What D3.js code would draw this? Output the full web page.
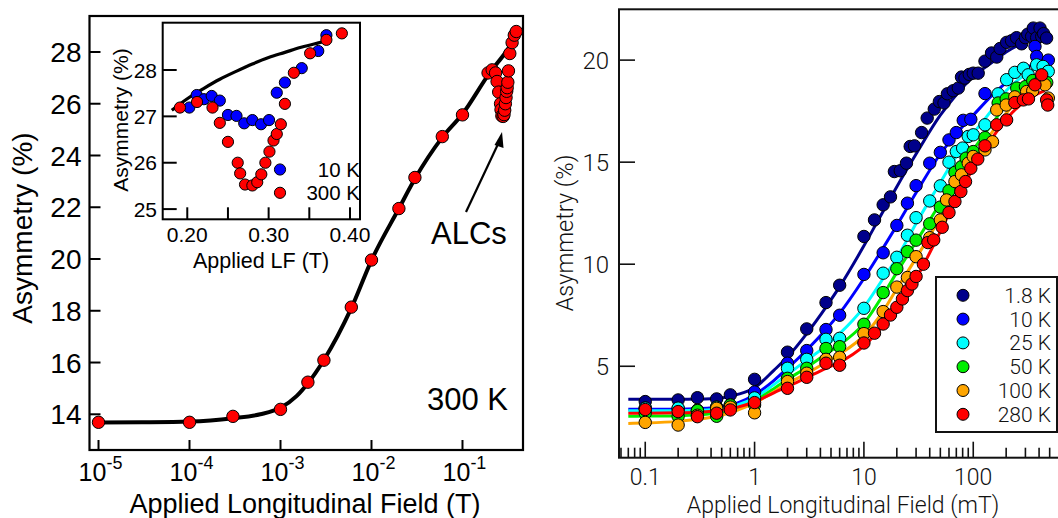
<!DOCTYPE html>
<html><head><meta charset="utf-8">
<script src="https://cdn.jsdelivr.net/npm/d3@7"></script>
<style>body{margin:0;background:#fff}svg{display:block}</style>
</head><body>
<svg id="c" width="1058" height="518"></svg>
<script>
// ---------- Left panel: 300 K main data (field in T) ----------
const mainX = [1e-5, 1e-4, 3e-4, 1e-3, 2e-3, 3e-3, 6e-3, 1e-2, 2e-2, 3e-2, 6e-2, 1e-1];
const mainY = [13.69, 13.69, 13.92, 14.19, 15.24, 16.09, 18.14, 19.96, 21.95, 23.15, 24.73, 25.57];
const mainFitX = [1e-5, 3e-5, 1e-4, 3e-4, 6e-4, 1e-3, 1.5e-3, 2e-3, 3e-3, 6e-3, 1e-2, 2e-2, 3e-2, 6e-2, 0.1, 0.2, 0.3, 0.42];
const mainFitY = [13.68, 13.69, 13.72, 13.85, 14.0, 14.25, 14.7, 15.2, 16.1, 18.1, 19.95, 21.95, 23.1, 24.7, 25.6, 27.2, 28.0, 28.75];
const mainTickVals = [1e-5, 1e-4, 1e-3, 1e-2, 1e-1];
const mainTickExp = ["-5", "-4", "-3", "-2", "-1"];
const mainYTicks = [14, 16, 18, 20, 22, 24, 26, 28];

// ---------- Inset: ALC region ----------
const in300X = [0.191,0.212,0.231,0.240,0.250,0.262,0.265,0.271,0.280,0.286,0.291,0.296,0.301,0.306,0.310,0.315,0.320,0.331,0.351,0.371,0.390];
const in300Y = [27.19,27.31,27.19,26.86,26.45,26.0,25.77,25.53,25.51,25.58,25.75,26.0,26.24,26.48,26.62,26.83,27.27,27.94,28.36,28.65,28.79];
const in10X = [0.2025,0.2116,0.2205,0.230,0.240,0.250,0.2605,0.270,0.280,0.2907,0.3005,0.310,0.320,0.3407,0.361,0.371];
const in10Y = [27.19,27.46,27.37,27.44,27.34,27.03,27.01,26.85,26.92,26.83,26.92,27.51,27.73,28.04,28.41,28.75];
const inFitX = [0.181,0.20,0.22,0.24,0.26,0.28,0.30,0.32,0.34,0.36,0.372];
const inFitY = [27.13,27.38,27.6,27.8,27.97,28.13,28.27,28.38,28.49,28.58,28.63];
const inXTicks = [0.20, 0.25, 0.30, 0.35, 0.40];
const inXLabels = ["0.20", "0.30", "0.40"];
const inYTicks = [25, 26, 27, 28];
const inLegend = ["10 K", "300 K"];

// ---------- Right panel (field in mT) ----------
const tempLabels = ["1.8 K", "10 K", "25 K", "50 K", "100 K", "280 K"];
const tempColors = ["#00008b", "#0000ff", "#00ffff", "#00ee00", "#ffa500", "#ff0000"];

const k18X = [0.1,0.2,0.3,0.45,0.6,1,2,3,4.5,6,10,12.5,15,17.5,19,21.5,24.5,26.5,29,33.7,37.9,44,49,54,58,65.6,73,78,84,92,100,111,128,147,164,176,202,224,249,277,300,315,342,354,380,408,423,440,469];
const k18Y = [3.27,3.35,3.46,3.4,3.6,4.36,5.69,6.83,8.12,8.97,11.36,12.17,12.91,13.3,14.54,14.58,14.95,15.77,15.8,16.45,17.16,17.6,17.97,17.9,18.35,18.5,18.63,19.17,19.12,19.3,19.36,19.36,19.95,20.35,20.15,20.57,20.87,20.95,21.1,20.8,21.1,21.27,21.16,21.57,21.1,21.57,21.16,21.3,21.08];
const k10X = [0.1,0.2,0.3,0.45,0.6,1,2,3,4.5,6,10,15,20,25,30,40,50,60,70,81,95,128,367,380,486];
const k10Y = [2.95,2.92,2.85,3.0,3.1,3.74,5.15,5.77,6.8,7.5,9.5,10.56,11.9,12.99,13.85,14.95,15.48,16.09,16.45,17.05,17.1,18.36,20.67,20.18,20.0];
const k25X = [0.1,0.2,0.3,0.45,0.6,1,2,3,4.5,6,10,15,20,25,30,40,50,60,70,80,90,100,128,169,202,240,288,318,380,435,485];
const k25Y = [2.95,2.95,2.8,2.99,3.1,3.45,4.9,5.34,6.32,6.37,7.84,9.56,10.34,11.42,12.28,13.1,13.84,15.0,15.52,15.69,16.26,16.34,16.83,18.35,19.04,19.4,19.6,19.28,19.77,19.69,19.45];
const k50X = [0.1,0.2,0.3,0.45,0.6,1,2,3,4.5,6,10,15,20,25,30,40,50,60,68,78,86,100,128,169,200,250,300,350,420,470];
const k50Y = [2.7,2.55,2.83,2.55,3.1,3.1,4.41,4.9,5.87,5.96,7.06,8.61,9.78,10.62,11.18,11.98,12.8,13.6,14.5,14.78,15.2,15.52,16.2,17.9,18.1,18.63,18.7,19.0,19.1,18.9];
const k100X = [0.1,0.2,0.3,0.45,0.6,1,2,3,4.5,6,10,15,20,25,30,40,50,57,68,78,90,100,128,150,164,200,240,308,350,453,486];
const k100Y = [2.25,2.12,2.6,2.94,3.0,2.72,4.25,4.66,5.34,5.44,6.6,7.68,8.88,9.35,10.37,11.3,12.17,13.15,14.05,14.38,14.95,15.28,15.6,16.0,17.56,17.8,18.2,18.46,18.5,18.79,18.14];
const k280X = [0.1,0.2,0.3,0.45,0.6,1,2,3,4.5,6,10,12.5,15,17.5,20,22.5,25,27.5,30,35,38.5,43.5,52,60,68,77,85,95,110,128,164,202,240,287,320,367,423,469,480];
const k280Y = [2.88,2.78,2.53,2.7,2.86,3.22,3.92,4.46,5.15,5.05,6.14,6.62,7.07,7.51,7.89,8.3,8.71,9.03,9.4,10.0,11.06,11.19,11.81,12.53,13.07,13.56,14.05,14.7,15.15,15.8,16.83,17.07,17.92,18.05,18.1,18.79,19.28,18.05,17.8];

const fitX = [0.07,0.1,0.2,0.3,0.5,0.7,1,1.5,2,3,4.5,6,10,15,20,30,50,70,100,150,200,300,450];
const fit18 = [3.38,3.38,3.38,3.39,3.45,3.62,3.95,4.8,5.45,6.6,7.9,8.9,10.9,12.6,13.8,15.4,17.3,18.3,19.2,19.9,20.4,20.9,21.3];
const fit10 = [2.9,2.9,2.9,2.92,3.0,3.2,3.6,4.3,4.9,5.8,6.8,7.6,9.3,10.8,11.9,13.5,15.4,16.4,17.3,18.3,18.9,19.6,20.0];
const fit25 = [2.82,2.82,2.82,2.84,2.92,3.1,3.45,4.1,4.6,5.3,6.0,6.6,7.9,9.3,10.3,12.0,14.0,15.3,16.4,17.6,18.5,19.3,19.8];
const fit50 = [2.55,2.56,2.58,2.62,2.75,2.95,3.3,3.9,4.35,4.95,5.6,6.05,7.1,8.5,9.6,11.1,13.0,14.3,15.6,16.9,17.8,18.7,19.2];
const fit100 = [2.2,2.22,2.3,2.4,2.6,2.85,3.2,3.75,4.15,4.65,5.2,5.6,6.5,7.7,8.8,10.3,12.3,13.8,15.1,16.5,17.4,18.3,18.8];
const fit280 = [2.7,2.7,2.72,2.75,2.85,3.0,3.25,3.7,4.0,4.45,4.9,5.2,6.0,7.0,7.85,9.3,11.6,13.2,14.7,16.2,17.1,18.0,18.5];

const rightXTicks = [0.1, 1, 10, 100];
const rightXLabels = ["0.1", "1", "10", "100"];
const rightYTicks = [5, 10, 15, 20];

// ---------- drawing ----------
const svg = d3.select("#c");
const LF = "'Liberation Sans', Arial, Helvetica, sans-serif";
const RF = "Roboto, 'Liberation Sans', Arial, sans-serif";
const zip = (xs, ys) => xs.map((x, i) => [x, ys[i]]);

// ===== Left main =====
const L = {l: 89.5, r: 523, t: 16, b: 450};
const xL = d3.scaleLog().domain([Math.pow(10, -5.099), Math.pow(10, -0.335)]).range([L.l, L.r]);
const yL = d3.scaleLinear().domain([12.62, 29.39]).range([L.b, L.t]);
const gL = svg.append("g");

gL.selectAll(".xt").data(mainTickVals).join("line")
  .attr("x1", d => xL(d)).attr("x2", d => xL(d)).attr("y1", L.b).attr("y2", L.b - 10)
  .attr("stroke", "#000").attr("stroke-width", 2);
gL.selectAll(".yt").data(mainYTicks).join("line")
  .attr("x1", L.l).attr("x2", L.l + 11).attr("y1", d => yL(d)).attr("y2", d => yL(d))
  .attr("stroke", "#000").attr("stroke-width", 2);
gL.selectAll(".yl").data(mainYTicks).join("text")
  .attr("x", L.l - 8).attr("y", d => yL(d)).attr("dy", "0.36em")
  .attr("text-anchor", "end").attr("font-family", LF).attr("font-size", 28).text(d => d);
const xlab = gL.selectAll(".xl").data(mainTickVals).join("text")
  .attr("x", d => xL(d) + 2).attr("y", 481).attr("text-anchor", "middle")
  .attr("font-family", LF).attr("font-size", 25);
xlab.append("tspan").text("10");
xlab.append("tspan").attr("dy", -12).attr("font-size", 18).text((d, i) => mainTickExp[i]);

gL.append("text").attr("x", 305).attr("y", 513).attr("text-anchor", "middle")
  .attr("font-family", LF).attr("font-size", 27).text("Applied Longitudinal Field (T)");
gL.append("text").attr("transform", "translate(32,228) rotate(-90)").attr("text-anchor", "middle")
  .attr("font-family", LF).attr("font-size", 28).text("Asymmetry (%)");

const lineL = d3.line().x(d => xL(d[0])).y(d => yL(d[1])).curve(d3.curveMonotoneX);
gL.append("path").attr("d", lineL(zip(mainFitX, mainFitY)))
  .attr("fill", "none").attr("stroke", "#000").attr("stroke-width", 4);
gL.selectAll(".pm").data(zip(mainX, mainY).concat(zip(in300X, in300Y))).join("circle")
  .attr("cx", d => xL(d[0])).attr("cy", d => yL(d[1])).attr("r", 6.2)
  .attr("fill", "#ff0000").attr("stroke", "#000").attr("stroke-width", 1);

gL.append("text").attr("x", 508).attr("y", 410).attr("text-anchor", "end")
  .attr("font-family", LF).attr("font-size", 31).text("300 K");
gL.append("text").attr("x", 431).attr("y", 244)
  .attr("font-family", LF).attr("font-size", 31).text("ALCs");
gL.append("line").attr("x1", 466).attr("y1", 212).attr("x2", 499).attr("y2", 142)
  .attr("stroke", "#000").attr("stroke-width", 2.2);
gL.append("path").attr("d", "M502,132 L494.5,145 L503.5,148 Z").attr("fill", "#000");

gL.append("rect").attr("x", L.l).attr("y", L.t).attr("width", L.r - L.l).attr("height", L.b - L.t)
  .attr("fill", "none").attr("stroke", "#000").attr("stroke-width", 2.2);

// ===== Inset =====
const I = {l: 162.7, r: 360, t: 22.7, b: 219.3};
const xI = d3.scaleLinear().domain([0.1698, 0.4123]).range([I.l, I.r]);
const yI = d3.scaleLinear().domain([24.78, 29.02]).range([I.b, I.t]);
const gI = svg.append("g");
gI.append("rect").attr("x", I.l).attr("y", I.t).attr("width", I.r - I.l).attr("height", I.b - I.t)
  .attr("fill", "#fff");
gI.selectAll(".xt").data(inXTicks).join("line")
  .attr("x1", d => xI(d)).attr("x2", d => xI(d)).attr("y1", I.b).attr("y2", I.b - 12)
  .attr("stroke", "#000").attr("stroke-width", 2);
gI.selectAll(".yt").data(inYTicks).join("line")
  .attr("x1", I.l).attr("x2", I.l + 14).attr("y1", d => yI(d)).attr("y2", d => yI(d))
  .attr("stroke", "#000").attr("stroke-width", 2);
gI.selectAll(".xl").data(inXLabels).join("text")
  .attr("x", d => xI(+d)).attr("y", 242).attr("text-anchor", "middle")
  .attr("font-family", LF).attr("font-size", 21).text(d => d);
gI.selectAll(".yl").data(inYTicks).join("text")
  .attr("x", 157).attr("y", d => yI(d)).attr("dy", "0.36em").attr("text-anchor", "end")
  .attr("font-family", LF).attr("font-size", 21).text(d => d);
gI.append("text").attr("x", 261).attr("y", 268).attr("text-anchor", "middle")
  .attr("font-family", LF).attr("font-size", 21.5).text("Applied LF (T)");
gI.append("text").attr("transform", "translate(128,120) rotate(-90)").attr("text-anchor", "middle")
  .attr("font-family", LF).attr("font-size", 21).text("Asymmetry (%)");
const lineI = d3.line().x(d => xI(d[0])).y(d => yI(d[1])).curve(d3.curveMonotoneX);
gI.append("path").attr("d", lineI(zip(inFitX, inFitY)))
  .attr("fill", "none").attr("stroke", "#000").attr("stroke-width", 3.2);
gI.selectAll(".p10").data(zip(in10X, in10Y)).join("circle")
  .attr("cx", d => xI(d[0])).attr("cy", d => yI(d[1])).attr("r", 5.6)
  .attr("fill", "#0000ff").attr("stroke", "#000").attr("stroke-width", 1);
gI.selectAll(".p300").data(zip(in300X, in300Y)).join("circle")
  .attr("cx", d => xI(d[0])).attr("cy", d => yI(d[1])).attr("r", 5.6)
  .attr("fill", "#ff0000").attr("stroke", "#000").attr("stroke-width", 1);
const inLegColors = ["#0000ff", "#ff0000"];
inLegend.forEach((lab, i) => {
  const yy = 169.5 + i * 23.3;
  gI.append("circle").attr("cx", 280).attr("cy", yy).attr("r", 5.6)
    .attr("fill", inLegColors[i]).attr("stroke", "#000").attr("stroke-width", 1);
  gI.append("text").attr("x", 360).attr("y", yy).attr("dy", "0.36em").attr("text-anchor", "end")
    .attr("font-family", LF).attr("font-size", 20.5).text(lab);
});
gI.append("rect").attr("x", I.l).attr("y", I.t).attr("width", I.r - I.l).attr("height", I.b - I.t)
  .attr("fill", "none").attr("stroke", "#000").attr("stroke-width", 2);

// ===== Right panel =====
const R = {l: 619, r: 1057, t: 9.3, b: 457.7};
const xR = d3.scaleLog().domain([Math.pow(10, -1.24), Math.pow(10, 2.766)]).range([R.l, R.r]);
const yR = d3.scaleLinear().domain([0.52, 22.49]).range([R.b, R.t]);
const gR = svg.append("g");

const minor = [];
[0.01, 0.1, 1, 10, 100].forEach(dec => { for (let k = 2; k <= 9; k++) { const v = dec * k; if (v >= xR.domain()[0] && v <= xR.domain()[1]) minor.push(v); } });
gR.selectAll(".mt").data(minor).join("line")
  .attr("x1", d => xR(d)).attr("x2", d => xR(d)).attr("y1", R.b).attr("y2", R.b - 10)
  .attr("stroke", "#111").attr("stroke-width", 1.6);
gR.selectAll(".xt").data(rightXTicks).join("line")
  .attr("x1", d => xR(d)).attr("x2", d => xR(d)).attr("y1", R.b).attr("y2", R.b - 16)
  .attr("stroke", "#111").attr("stroke-width", 1.6);
gR.selectAll(".yt").data(rightYTicks).join("line")
  .attr("x1", R.l).attr("x2", R.l + 16).attr("y1", d => yR(d)).attr("y2", d => yR(d))
  .attr("stroke", "#111").attr("stroke-width", 1.6);
gR.selectAll(".xl").data(rightXTicks).join("text")
  .attr("x", d => xR(d)).attr("y", 485).attr("text-anchor", "middle")
  .attr("font-family", RF).attr("font-weight", 300).attr("font-size", 23).attr("fill", "#111")
  .text((d, i) => rightXLabels[i]);
gR.selectAll(".yl").data(rightYTicks).join("text")
  .attr("x", 609).attr("y", d => yR(d)).attr("dy", "0.36em").attr("text-anchor", "end")
  .attr("font-family", RF).attr("font-weight", 300).attr("font-size", 24).attr("fill", "#111")
  .text(d => d);
gR.append("text").attr("x", 843).attr("y", 513).attr("text-anchor", "middle")
  .attr("font-family", RF).attr("font-weight", 300).attr("font-size", 23).attr("fill", "#111")
  .text("Applied Longitudinal Field (mT)");
gR.append("text").attr("transform", "translate(573,233) rotate(-90)").attr("text-anchor", "middle")
  .attr("font-family", RF).attr("font-weight", 300).attr("font-size", 23.5).attr("fill", "#111")
  .text("Asymmetry (%)");

const fits = [fit18, fit10, fit25, fit50, fit100, fit280];
const seriesX = [k18X, k10X, k25X, k50X, k100X, k280X];
const seriesY = [k18Y, k10Y, k25Y, k50Y, k100Y, k280Y];
const lineR = d3.line().x(d => xR(d[0])).y(d => yR(d[1])).curve(d3.curveMonotoneX);
fits.forEach((f, i) => {
  gR.append("path").attr("d", lineR(zip(fitX, f)))
    .attr("fill", "none").attr("stroke", tempColors[i]).attr("stroke-width", 3);
});
seriesX.forEach((xs, i) => {
  gR.append("g").selectAll("circle").data(zip(xs, seriesY[i])).join("circle")
    .attr("cx", d => xR(d[0])).attr("cy", d => yR(d[1])).attr("r", 6.2)
    .attr("fill", tempColors[i]).attr("stroke", "#000").attr("stroke-width", 1);
});

// legend
const Lg = {x: 936, y: 277, w: 121, h: 155};
gR.append("rect").attr("x", Lg.x).attr("y", Lg.y).attr("width", Lg.w).attr("height", Lg.h)
  .attr("fill", "#fff").attr("stroke", "#111").attr("stroke-width", 2);
tempLabels.forEach((lab, i) => {
  const yy = 295.3 + i * 23.8;
  gR.append("circle").attr("cx", 963).attr("cy", yy).attr("r", 6)
    .attr("fill", tempColors[i]).attr("stroke", "#000").attr("stroke-width", 1);
  gR.append("text").attr("x", 1051).attr("y", yy).attr("dy", "0.36em").attr("text-anchor", "end")
    .attr("font-family", RF).attr("font-weight", 300).attr("font-size", 21).attr("fill", "#111").text(lab);
});

gR.append("rect").attr("x", R.l).attr("y", R.t).attr("width", R.r - R.l + 4).attr("height", R.b - R.t)
  .attr("fill", "none").attr("stroke", "#111").attr("stroke-width", 2);
</script>
</body></html>
